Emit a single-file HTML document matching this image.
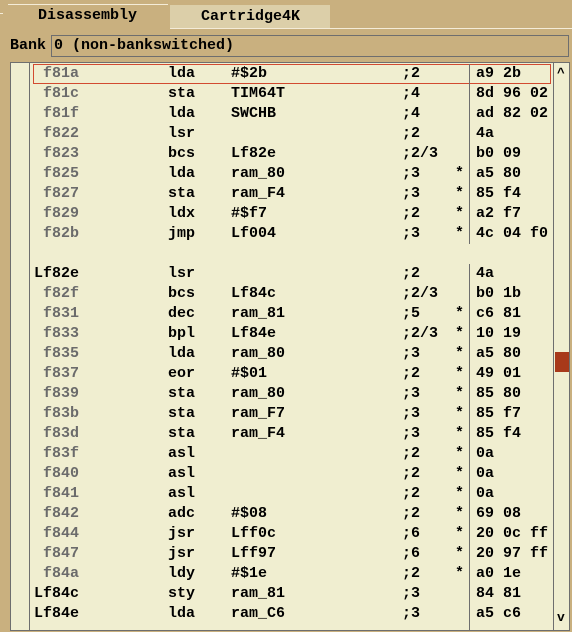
<!DOCTYPE html>
<html><head><style>
*{margin:0;padding:0;box-sizing:border-box}
body{width:572px;height:632px;background:#c9b07f;position:relative;overflow:hidden;font-family:"Liberation Mono","DejaVu Sans Mono",monospace;font-weight:bold;font-size:15px;color:#000}
.a{position:absolute}
.row{position:absolute;left:0;height:20px;line-height:20px;white-space:pre}
.row span{position:absolute;top:0}
.g{color:#6b6b6b}
</style></head><body>
<div class="a" style="left:8px;top:4px;width:160px;height:1px;background:#f4ecd8"></div>
<div class="a" style="left:0;top:13px;width:3px;height:1px;background:#f4ecd8"></div>
<div class="a" style="left:38px;top:6px;line-height:20px;font-size:15px">Disassembly</div>
<div class="a" style="left:170px;top:5px;width:160px;height:23px;background:#dccfa9"></div>
<div class="a" style="left:201px;top:6px;line-height:22px">Cartridge4K</div>
<div class="a" style="left:170px;top:28px;width:402px;height:1px;background:#f4ecd8"></div>
<div class="a" style="left:10px;top:36px;line-height:20px">Bank</div>
<div class="a" style="left:51px;top:35px;width:518px;height:22px;border:1px solid #6e6e6e;background:#c9b07f"></div>
<div class="a" style="left:54px;top:36px;line-height:20px">0 (non-bankswitched)</div>
<div class="a" style="left:10px;top:62px;width:560px;height:569px;background:#f0eed0;border:1px solid #6e6e6e"></div>
<div class="a" style="left:29px;top:63px;width:1px;height:567px;background:#6e6e6e"></div>
<div class="a" style="left:553px;top:63px;width:1px;height:567px;background:#6e6e6e"></div>
<div class="a" style="left:469px;top:604px;width:1px;height:26px;background:#6e6e6e"></div>
<div class="a" style="left:555px;top:352px;width:14px;height:20px;background:#a8391a"></div>
<div class="a" style="left:557px;top:64px;line-height:20px;font-size:13px">^</div>
<div class="a" style="left:557px;top:608px;line-height:20px;font-size:13px">v</div>
<div class="a" style="left:33px;top:64px;width:518px;height:20px;border:1px solid #d24a30"></div>
<div id="L" class="a" style="left:0;top:64px;width:572px"></div>
<script>
var d=[
["f81a","lda","#$2b",";2","","a9 2b"],
["f81c","sta","TIM64T",";4","","8d 96 02"],
["f81f","lda","SWCHB",";4","","ad 82 02"],
["f822","lsr","",";2","","4a"],
["f823","bcs","Lf82e",";2/3","","b0 09"],
["f825","lda","ram_80",";3","*","a5 80"],
["f827","sta","ram_F4",";3","*","85 f4"],
["f829","ldx","#$f7",";2","*","a2 f7"],
["f82b","jmp","Lf004",";3","*","4c 04 f0"],
null,
["Lf82e","lsr","",";2","","4a"],
["f82f","bcs","Lf84c",";2/3","","b0 1b"],
["f831","dec","ram_81",";5","*","c6 81"],
["f833","bpl","Lf84e",";2/3","*","10 19"],
["f835","lda","ram_80",";3","*","a5 80"],
["f837","eor","#$01",";2","*","49 01"],
["f839","sta","ram_80",";3","*","85 80"],
["f83b","sta","ram_F7",";3","*","85 f7"],
["f83d","sta","ram_F4",";3","*","85 f4"],
["f83f","asl","",";2","*","0a"],
["f840","asl","",";2","*","0a"],
["f841","asl","",";2","*","0a"],
["f842","adc","#$08",";2","*","69 08"],
["f844","jsr","Lff0c",";6","*","20 0c ff"],
["f847","jsr","Lff97",";6","*","20 97 ff"],
["f84a","ldy","#$1e",";2","*","a0 1e"],
["Lf84c","sty","ram_81",";3","","84 81"],
["Lf84e","lda","ram_C6",";3","","a5 c6"]];
var h="";
d.forEach(function(r,i){
 if(!r)return;
 var lab=r[0][0]=="L";
 h+='<div class="row" style="top:'+(i*20)+'px;width:572px">'+
 '<span class="'+(lab?'':'g')+'" style="left:'+(lab?34:43)+'px">'+r[0]+'</span>'+
 '<span style="left:168px">'+r[1]+'</span>'+
 '<span style="left:231px">'+r[2]+'</span>'+
 '<span style="left:402px">'+r[3]+'</span>'+
 '<span style="left:455px">'+r[4]+'</span>'+
 '<span style="left:469px;width:1px;height:20px;background:#6e6e6e"></span>'+
 '<span style="left:476px">'+r[5]+'</span></div>';
});
document.getElementById("L").innerHTML=h;
</script>
</body></html>
